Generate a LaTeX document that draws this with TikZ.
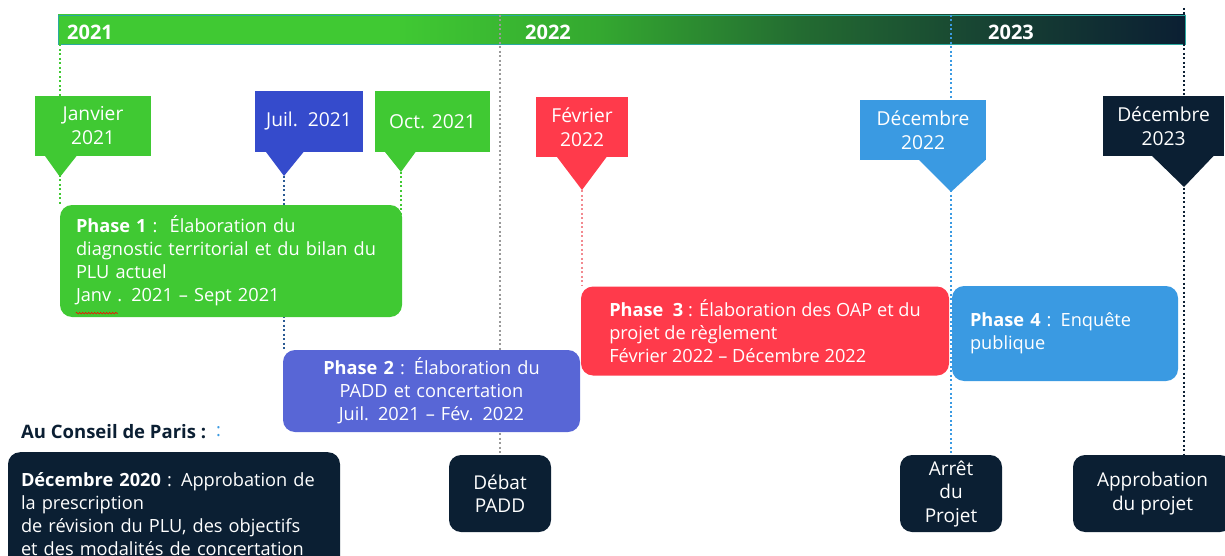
\documentclass[tikz,border=0pt]{standalone}
\usepackage{fontspec}
\setmainfont{Open Sans}
\usetikzlibrary{calc,decorations.pathmorphing}
\pgfdeclarelayer{bg}
\pgfdeclarelayer{lines}
\pgfsetlayers{bg,lines,main}
\definecolor{cgreen}{HTML}{40C933}
\definecolor{cnavy}{HTML}{0B1F33}
\definecolor{cred}{HTML}{FF3A4B}
\definecolor{clblue}{HTML}{3A9AE2}
\definecolor{cjblue}{HTML}{354BCC}
\definecolor{cviolet}{HTML}{5866D6}
\definecolor{cgray}{HTML}{9A9A9A}
\definecolor{cpink}{HTML}{F28A90}
\definecolor{cdblue}{HTML}{2A5A94}
\definecolor{sgA}{HTML}{34A830}
\definecolor{sgB}{HTML}{236B31}
\definecolor{sgC}{HTML}{163F33}
\definecolor{cteal}{HTML}{2AA9A0}
\pgfdeclarehorizontalshading{barshade}{100bp}{color(0bp)=(cgreen); color(25bp)=(cgreen); color(40bp)=(cgreen); color(49bp)=(sgA); color(58bp)=(sgB); color(67bp)=(sgC); color(75bp)=(cnavy); color(100bp)=(cnavy)}
\begin{document}
\begin{tikzpicture}[x=1pt,y=-1pt,
  every node/.style={font=\fontsize{18.2}{23}\selectfont, text=white},
  dl/.style={line width=2pt, dash pattern=on 2pt off 2.5pt},
  callout/.style={rectangle, inner sep=0pt, align=center, font=\fontsize{19.2}{24}\selectfont},
  phase/.style={rectangle, rounded corners=12pt, inner sep=0pt},
  event/.style={rectangle, rounded corners=12pt, fill=cnavy, inner sep=0pt, align=center, minimum height=77pt, font=\fontsize{19}{23.5}\selectfont},
  year/.style={font=\fontsize{20}{24}\selectfont\bfseries, text=white, inner sep=0pt}]
\useasboundingbox (0,0) rectangle (1225,556);

% timeline bar
\begin{pgfonlayer}{bg}
\node[draw=cteal, line width=0.8pt, shade, shading=barshade, minimum width=1127pt, minimum height=29pt, inner sep=0pt] (bar) at (621.5,29.5) {};
\end{pgfonlayer}
\node[year, anchor=west] (y21) at (67,32) {2021};
\node[year, anchor=west] (y22) at (525,32) {2022};
\node[year, anchor=west] (y23) at (988,32) {2023};

% callouts
\node[callout, fill=cgreen, minimum width=116pt, minimum height=60pt] (jan) at (93,126) {Janvier\\2021};
\coordinate (jantip) at (60,177);
\fill[cgreen] ($(jan.south west)+(10,-0.5)$) -- (jantip) -- ($(jan.south west)+(42,-0.5)$) -- cycle;

\node[callout, fill=cjblue, minimum width=108pt, minimum height=61pt] (juil) at (309,121.5) {Juil.\ \ 2021};
\coordinate (juiltip) at (284,176);
\fill[cjblue] ($(juil.south west)+(11,-0.5)$) -- (juiltip) -- ($(juil.south west)+(49,-0.5)$) -- cycle;

\node[callout, fill=cgreen, minimum width=115pt, minimum height=61pt] (oct) at (432.5,121.5) {Oct. 2021};
\coordinate (octtip) at (401,172);
\fill[cgreen] ($(oct.south west)+(10,-0.5)$) -- (octtip) -- ($(oct.south west)+(41,-0.5)$) -- cycle;

\node[callout, fill=cred, minimum width=92pt, minimum height=60pt] (feb) at (582,127) {Février\\2022};
\coordinate (febtip) at (582,190);
\fill[cred] ($(feb.south west)+(21,-0.5)$) -- (febtip) -- ($(feb.south west)+(71,-0.5)$) -- cycle;

\node[callout, fill=clblue, minimum width=126pt, minimum height=60pt] (dec22) at (923,130) {Décembre\\2022};
\coordinate (dec22tip) at (951,192);
\fill[clblue] ($(dec22.south west)+(59,-0.5)$) -- (dec22tip) -- ($(dec22.south west)+(126,-0.5)$) -- cycle;

\node[callout, fill=cnavy, minimum width=121pt, minimum height=60pt] (dec23) at (1163.5,126) {Décembre\\2023};
\coordinate (dec23tip) at (1184,187);
\fill[cnavy] ($(dec23.south west)+(49,-0.5)$) -- (dec23tip) -- ($(dec23.south west)+(111,-0.5)$) -- cycle;

% phases
\node[phase, fill=cgreen, minimum width=342pt, minimum height=112pt, text width=310pt, align=left] (p1) at (231,261)
  {\textbf{Phase 1} :\ \ Élaboration du\\diagnostic territorial et du bilan du\\PLU actuel\\Janv . 2021 – Sept 2021};
\draw[red, line width=0.6pt, decorate, decoration={snake, amplitude=0.8pt, segment length=3pt}]
  ($(p1.south west)+(16,-4)$) -- ($(p1.south west)+(58,-4)$);
\node[phase, fill=cviolet, minimum width=297pt, minimum height=82pt, text width=292pt, align=center] (p2) at (431.5,391)
  {\textbf{Phase 2} : Élaboration du\\PADD et concertation\\Juil. 2021 – Fév. 2022};
\node[phase, fill=cred, minimum width=368pt, minimum height=89pt, align=left] (p3) at (765,331)
  {\textbf{Phase\ \ 3} : Élaboration des OAP et du\\projet de règlement\\Février 2022 – Décembre 2022};
\node[phase, fill=clblue, minimum width=226pt, minimum height=95pt, text width=190pt, align=left] (p4) at (1065,333.5)
  {\textbf{Phase 4} : Enquête\\publique};

% Conseil de Paris
\node[anchor=west, inner sep=0pt, text=cnavy, font=\fontsize{18.5}{23}\selectfont\bfseries] (conseil) at (21,432) {Au Conseil de Paris :};
\node[anchor=west, inner sep=0pt, text=clblue] (colon) at (216,432) {:};
\begin{scope}
\clip (0,0) rectangle (1225,556);
\node[event, anchor=north, minimum width=332pt, minimum height=124pt, text width=306pt, align=left, font=\fontsize{18.2}{23}\selectfont] (d2020) at (174,452)
  {\textbf{Décembre 2020} : Approbation de\\la prescription\\de révision du PLU, des objectifs\\et des modalités de concertation};
\node[event, minimum width=159pt] (appro) at (1152.5,493.5) {Approbation\\du projet};
\end{scope}
\node[event, minimum width=102pt] (debat) at (500,493.5) {Débat\\PADD};
\node[event, minimum width=102pt] (arret) at (951,493.5) {Arrêt\\du\\Projet};

% dotted guide lines
\coordinate (navytop) at (1184,8);
\coordinate (octend) at (401,292);
\begin{pgfonlayer}{lines}
\draw[dl, cgreen] (bar.south -| jantip) -- (p1.north -| jantip);
\draw[dl, cdblue] (juiltip) -- (p2.north -| juiltip);
\draw[dl, cgreen] (octtip) -- (octend);
\draw[dl, cgray] (bar.north -| debat) -- (debat.north);
\draw[dl, cpink] (febtip) -- (p3.north -| febtip);
\draw[dl, clblue] (bar.north -| arret) -- (arret.north);
\draw[dl, cnavy] (navytop) -- (appro.north -| navytop);
\end{pgfonlayer}
\end{tikzpicture}
\end{document}
